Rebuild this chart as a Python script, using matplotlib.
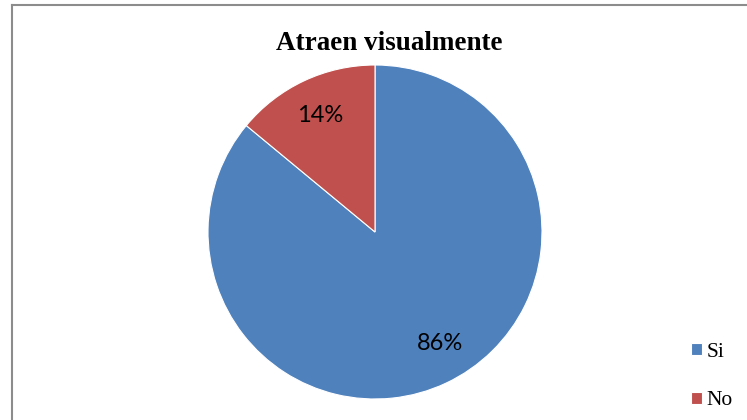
import matplotlib.pyplot as plt
from matplotlib.lines import Line2D

labels = ["Si", "No"]
values = [86, 14]
colors = ["#4F81BD", "#C0504D"]

W, H = 747, 420
fig = plt.figure(figsize=(W / 100, H / 100), dpi=100)

# pie centred at (375, 232) px from top-left, radius 167 px
cx, cy, r = 375, 232, 167
ax = fig.add_axes([(cx - r) / W, (H - cy - r) / H, 2 * r / W, 2 * r / H])
wedges, texts, autotexts = ax.pie(
    values, colors=colors, startangle=90, counterclock=False,
    autopct="%1.0f%%", pctdistance=0.77,
    wedgeprops=dict(edgecolor="white", linewidth=0.8),
    textprops=dict(family="Lato", fontsize=17, color="black"))
# the big slice's label sits a bit further right
autotexts[0].set_position((0.39, -0.665))
ax.set_xlim(-1, 1)
ax.set_ylim(-1, 1)
ax.set_aspect("equal")

fig.text(389 / W, 1 - 44 / H, "Atraen visualmente", ha="center", va="center",
         family="Liberation Serif", fontweight="bold", fontsize=19.5)

fig.legend(wedges, labels, loc="center left", bbox_to_anchor=(680 / W, 1 - 376.5 / H),
           frameon=False, prop=dict(family="Liberation Serif", size=15.5),
           borderpad=0, handlelength=0.5, handleheight=0.5, handletextpad=0.25,
           labelspacing=1.39)

# chart border (cut off on the right and bottom)
fig.add_artist(Line2D([11.5 / W, 11.5 / W], [0, 1 - 4.5 / H], color="#8c8c8c", lw=1.5))
fig.add_artist(Line2D([11.5 / W, 1], [1 - 4.5 / H, 1 - 4.5 / H], color="#8c8c8c", lw=1.5))

fig.savefig("out.png", dpi=100)
